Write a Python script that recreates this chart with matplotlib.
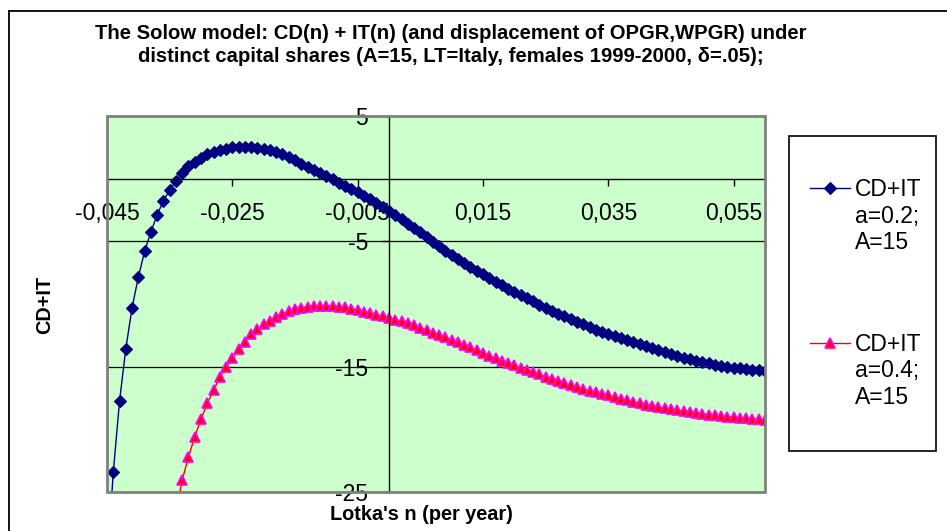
import numpy as np
import matplotlib
matplotlib.use("Agg")
import matplotlib.pyplot as plt
from matplotlib import font_manager
from matplotlib.lines import Line2D
from matplotlib.patches import Rectangle

plt.rcParams["font.family"] = ["Liberation Sans", "DejaVu Sans"]

# Lotka's n grid (per year), step 0.001
n_vals = np.round(np.arange(-45, 61) / 1000, 3)

# CD+IT, a=0.2, A=15  (n = -0.045 ... 0.060)
cd_it_a02 = [
    -31.0,
    -23.44, -17.75, -13.57, -10.30, -7.85, -5.80, -4.26, -2.88, -1.78, -0.90,
    -0.21, 0.43, 1.01, 1.33, 1.65, 1.93, 2.13, 2.29, 2.39, 2.49,
    2.54, 2.56, 2.53, 2.45, 2.38, 2.27, 2.14, 1.97, 1.73, 1.46,
    1.21, 0.97, 0.71, 0.45, 0.21, -0.05, -0.31, -0.57, -0.83, -1.09,
    -1.37, -1.66, -1.94, -2.26, -2.58, -2.92, -3.25, -3.59, -3.92, -4.26,
    -4.63, -5.02, -5.39, -5.77, -6.09, -6.44, -6.76, -7.05, -7.34, -7.63,
    -7.91, -8.21, -8.50, -8.77, -9.03, -9.29, -9.54, -9.79, -10.04, -10.28,
    -10.53, -10.76, -10.98, -11.20, -11.41, -11.62, -11.84, -12.05, -12.25, -12.42,
    -12.59, -12.75, -12.91, -13.06, -13.22, -13.37, -13.53, -13.68, -13.83, -13.99,
    -14.14, -14.27, -14.39, -14.52, -14.63, -14.74, -14.83, -14.92, -15.01, -15.07,
    -15.14, -15.19, -15.25, -15.30, -15.34,
]

# CD+IT, a=0.4, A=15  (n = -0.034 ... 0.060)
cd_it_a04 = [
    -26.6,
    -24.05, -22.19, -20.59, -19.18, -17.93, -16.87, -15.85, -15.01, -14.29,
    -13.62, -13.01, -12.42, -12.02, -11.62, -11.34, -11.04, -10.77, -10.58, -10.43,
    -10.29, -10.20, -10.15, -10.13, -10.13, -10.16, -10.20, -10.26, -10.36, -10.47,
    -10.60, -10.72, -10.85, -10.98, -11.11, -11.25, -11.38, -11.54, -11.70, -11.89,
    -12.10, -12.29, -12.48, -12.66, -12.86, -13.06, -13.26, -13.46, -13.66, -13.88,
    -14.11, -14.34, -14.53, -14.72, -14.90, -15.09, -15.26, -15.45, -15.62, -15.80,
    -15.97, -16.14, -16.31, -16.48, -16.64, -16.78, -16.92, -17.04, -17.17, -17.30,
    -17.43, -17.55, -17.67, -17.79, -17.91, -18.02, -18.11, -18.22, -18.30, -18.38,
    -18.46, -18.54, -18.62, -18.70, -18.77, -18.82, -18.88, -18.93, -18.99, -19.04,
    -19.09, -19.13, -19.17, -19.21, -19.26,
]

x_ticks = [-0.045, -0.025, -0.005, 0.015, 0.035, 0.055]
y_ticks = [-25, -15, -5, 5]
legend_labels = [["CD+IT", "a=0.2;", "A=15"], ["CD+IT", "a=0.4;", "A=15"]]

title = ("The Solow model: CD(n) + IT(n) (and displacement of OPGR,WPGR) under\n"
         "distinct capital shares (A=15, LT=Italy, females 1999-2000, \u03b4=.05);")

installed = {f.name for f in font_manager.fontManager.ttflist}
if "Liberation Sans Narrow" in installed:
    title_font, title_size = ["Liberation Sans Narrow", "DejaVu Sans"], 15.5
else:
    title_font, title_size = ["Liberation Sans", "DejaVu Sans"], 14.6

W, H = 947, 531
fig = plt.figure(figsize=(W / 100, H / 100), dpi=100)
ax = fig.add_axes([107 / W, 1 - 492 / H, 658 / W, 376 / H])
ax.set_xlim(-0.045, 0.06)
ax.set_ylim(-25, 5)
ax.set_facecolor("#CCFFCC")

blue = dict(color="#000080", marker="D", ms=6, mfc="#000080", mec="#000080", mew=0.8)
pink = dict(color="#FF0000", marker="^", ms=7, mfc="#FF0000", mec="#FF00FF", mew=1.2)

ax.plot(n_vals, cd_it_a02, lw=1, **blue)
ax.plot(n_vals[11:], cd_it_a04, lw=1, **pink)

# axes crossing at zero, Excel style
for side in ["top", "right"]:
    ax.spines[side].set_visible(False)
ax.spines["left"].set_position(("data", 0))
ax.spines["bottom"].set_position(("data", 0))
ax.spines["left"].set_linewidth(1)
ax.spines["bottom"].set_linewidth(1)
ax.add_patch(Rectangle((0, 0), 1, 1, transform=ax.transAxes, fill=False,
                       ec="#808080", lw=2, zorder=2.6, clip_on=False))

ax.set_xticks(x_ticks)
ax.set_xticklabels([f"{t:.3f}".replace(".", ",") for t in x_ticks])
ax.set_yticks(y_ticks)
ax.set_yticklabels([str(t) for t in y_ticks])
ax.tick_params(axis="x", direction="out", length=5, width=1, pad=12, labelsize=16.5)
ax.tick_params(axis="y", direction="out", length=5, width=1, pad=10, labelsize=16.5)
ax.yaxis.grid(True, color="black", lw=0.9)

fig.text(451 / W, 1 - 45 / H, title, ha="center", va="center", fontsize=title_size,
         fontweight="bold", family=title_font, linespacing=1.32)
fig.text(45 / W, 1 - 305 / H, "CD+IT", rotation=90, ha="center", va="center",
         fontsize=14.3, fontweight="bold")
fig.text(421 / W, 1 - 515 / H, "Lotka's n (per year)", ha="center", va="center",
         fontsize=14.3, fontweight="bold")

# legend box
fig.add_artist(Rectangle((789 / W, 1 - 451 / H), 147 / W, 315 / H,
                         transform=fig.transFigure, fc="white", ec="black", lw=1.2))
for top, style, lines in zip([188, 343], [blue, pink], legend_labels):
    line_style = {k: v for k, v in style.items() if k == "color"}
    fig.add_artist(Line2D([810 / W, 850 / W], [1 - top / H] * 2, lw=1,
                          transform=fig.transFigure, **line_style))
    fig.add_artist(Line2D([830 / W], [1 - top / H], lw=0,
                          transform=fig.transFigure, **style))
    for j, txt in enumerate(lines):
        fig.text(855 / W, 1 - (top + 8 + 26.5 * j) / H, txt, ha="left",
                 va="baseline", fontsize=16.5)

# chart area border
fig.add_artist(Line2D([9 / W, 1], [1 - 11 / H] * 2, transform=fig.transFigure,
                      color="black", lw=1.3))
fig.add_artist(Line2D([9 / W] * 2, [0, 1 - 11 / H], transform=fig.transFigure,
                      color="black", lw=1.3))

fig.savefig("out.png", dpi=100)
